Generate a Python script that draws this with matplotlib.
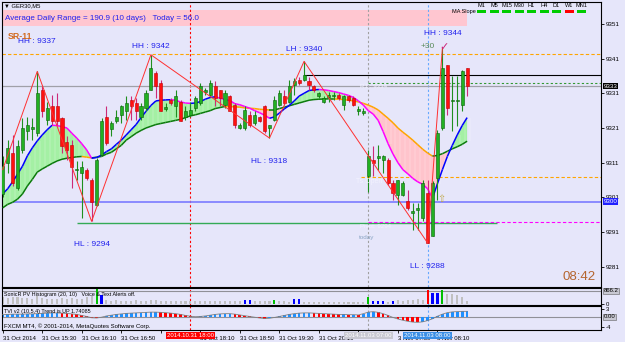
import matplotlib
matplotlib.use('Agg')
import matplotlib.pyplot as plt
import matplotlib.transforms as mtrans
from matplotlib.collections import LineCollection
from matplotlib.patches import Rectangle
import numpy as np

plt.rcParams['font.family'] = ['Liberation Sans', 'DejaVu Sans']

BG = '#e6e6fa'

# GER30 M5 candles, 31 Oct 14:50 .. 3 Nov 08:30
opens = [9302.0, 9310.9, 9313.8, 9303.7, 9314.7, 9320.0, 9320.8, 9319.5, 9332.0, 9323.4,
         9327.2, 9327.2, 9323.8, 9317.1, 9316.2, 9308.8, 9308.0, 9309.0, 9306.1, 9298.9,
         9313.3, 9324.3, 9320.6, 9322.9, 9324.8, 9325.8, 9329.1, 9328.2, 9324.3, 9326.7,
         9332.0, 9336.8, 9333.9, 9326.5, 9329.1, 9327.2, 9328.6, 9324.3, 9324.8, 9326.7,
         9328.2, 9331.4, 9330.6, 9333.0, 9332.0, 9327.7, 9330.1, 9327.7, 9321.0, 9321.0,
         9324.8, 9322.4, 9324.3, 9327.2, 9321.0, 9323.4, 9327.7, 9330.1, 9328.6, 9333.4,
         9334.9, 9334.9, 9334.4, 9333.0, 9330.1, 9328.6, 9330.0, 9330.2, 9330.6, 9327.7,
         9330.1, 9329.6, 9325.8, 9325.3, 9307.1, 9311.9, 9312.4, 9311.9, 9311.9, 9305.1,
         9301.8, 9301.8, 9299.9, 9296.5, 9297.4, 9295.1, 9302.3, 9289.8, 9306.6, 9321.0,
         9339.2, 9328.7, 9328.7, 9327.7, 9338.3]
highs = [9313.0, 9317.6, 9319.0, 9317.6, 9323.8, 9324.3, 9323.8, 9337.3, 9333.0, 9328.6,
         9330.6, 9331.0, 9324.3, 9318.6, 9317.6, 9311.4, 9311.4, 9309.4, 9306.6, 9312.3,
         9323.8, 9327.2, 9323.0, 9326.2, 9327.7, 9330.1, 9330.1, 9329.6, 9328.2, 9332.0,
         9342.1, 9337.3, 9334.9, 9328.2, 9329.6, 9332.0, 9329.1, 9327.2, 9328.6, 9330.1,
         9333.9, 9332.5, 9334.9, 9334.4, 9332.0, 9332.0, 9330.6, 9328.2, 9322.4, 9327.2,
         9325.8, 9325.8, 9324.5, 9327.7, 9322.0, 9330.1, 9332.0, 9332.0, 9334.9, 9335.4,
         9335.8, 9340.2, 9335.8, 9333.4, 9331.4, 9330.1, 9331.4, 9331.4, 9331.0, 9330.6,
         9330.6, 9330.1, 9327.2, 9326.7, 9314.7, 9315.7, 9316.2, 9313.3, 9312.3, 9306.1,
         9306.1, 9305.6, 9303.2, 9299.5, 9299.4, 9306.1, 9306.1, 9305.6, 9320.5, 9344.0,
         9339.2, 9335.9, 9335.9, 9337.8, 9338.3]
lows = [9301.0, 9308.0, 9304.2, 9303.2, 9313.8, 9317.6, 9317.6, 9318.6, 9324.3, 9321.9,
        9321.9, 9321.9, 9313.8, 9311.8, 9303.7, 9306.1, 9295.0, 9306.1, 9294.1, 9298.4,
        9312.8, 9316.2, 9318.6, 9322.4, 9322.4, 9323.4, 9323.4, 9323.4, 9323.4, 9325.8,
        9332.0, 9329.6, 9325.8, 9325.8, 9327.7, 9324.3, 9322.9, 9323.4, 9324.3, 9325.8,
        9327.7, 9330.6, 9330.1, 9327.2, 9327.2, 9326.7, 9325.8, 9321.0, 9320.6, 9320.5,
        9321.4, 9321.9, 9322.6, 9319.5, 9318.1, 9322.9, 9327.2, 9327.7, 9328.2, 9330.6,
        9333.4, 9334.4, 9332.0, 9331.4, 9329.6, 9328.2, 9328.6, 9329.1, 9329.1, 9326.2,
        9328.6, 9327.2, 9324.8, 9324.8, 9302.7, 9307.1, 9309.0, 9308.0, 9304.7, 9300.3,
        9298.9, 9301.3, 9297.5, 9291.5, 9291.7, 9294.1, 9287.9, 9289.8, 9300.3, 9320.5,
        9324.8, 9320.0, 9321.5, 9325.8, 9330.1]
closes = [9310.0, 9315.2, 9305.1, 9315.7, 9320.9, 9321.9, 9321.2, 9331.0, 9325.8, 9326.7,
          9322.9, 9322.9, 9315.7, 9314.7, 9309.9, 9309.2, 9309.9, 9306.6, 9299.8, 9311.8,
          9322.9, 9316.6, 9322.4, 9324.3, 9327.2, 9328.2, 9327.2, 9325.8, 9327.2, 9331.0,
          9338.2, 9333.0, 9325.8, 9327.0, 9328.2, 9330.1, 9322.9, 9325.8, 9326.2, 9329.6,
          9333.0, 9332.0, 9333.9, 9329.6, 9329.6, 9331.0, 9325.8, 9321.9, 9321.9, 9326.2,
          9321.9, 9324.8, 9322.9, 9320.0, 9321.9, 9329.1, 9331.0, 9328.2, 9333.0, 9334.4,
          9333.9, 9336.3, 9333.4, 9332.0, 9331.0, 9329.6, 9330.4, 9330.6, 9329.6, 9330.1,
          9329.1, 9327.7, 9326.4, 9325.9, 9312.8, 9310.9, 9312.8, 9312.8, 9305.1, 9302.3,
          9306.1, 9305.1, 9298.0, 9297.0, 9297.9, 9305.1, 9287.9, 9305.1, 9319.5, 9338.3,
          9326.7, 9329.2, 9329.2, 9337.3, 9333.2]

# SonicR moving averages (fast / slow)
fast_ma = [9302.0, 9303.5, 9305.5, 9307.7, 9310.0, 9313.0, 9315.3, 9317.3, 9319.0, 9320.5,
           9321.8, 9321.7, 9321.4, 9321.0, 9319.5, 9318.1, 9316.5, 9314.7, 9312.3, 9312.5,
           9313.2, 9314.2, 9315.0, 9316.3, 9317.5, 9319.0, 9320.5, 9322.0, 9324.0, 9325.8,
           9327.5, 9328.8, 9329.0, 9329.1, 9329.15, 9329.0, 9328.5, 9328.2, 9328.1, 9328.2,
           9328.6, 9329.3, 9329.8, 9330.0, 9329.6, 9329.2, 9328.9, 9328.0, 9327.7, 9327.2,
           9326.7, 9326.0, 9325.4, 9324.7, 9323.8, 9324.2, 9325.3, 9326.5, 9327.5, 9328.8,
           9330.2, 9331.0, 9331.8, 9332.0, 9332.1, 9332.0, 9331.8, 9331.5, 9331.2, 9330.8,
           9330.4, 9329.8, 9328.8, 9327.6, 9326.0, 9325.0, 9323.2, 9320.0, 9316.5, 9313.5,
           9311.0, 9309.0, 9307.8, 9306.5, 9305.5, 9304.8, 9303.5, 9300.8, 9305.0, 9309.0,
           9312.8, 9316.0, 9319.0, 9321.7, 9324.0]
slow_ma = [9298.0, 9299.0, 9299.6, 9300.5, 9302.0, 9304.3, 9306.2, 9308.3, 9309.2, 9310.0,
           9310.8, 9311.5, 9312.0, 9312.3, 9312.5, 9312.7, 9312.8, 9312.6, 9312.4, 9312.6,
           9312.8, 9313.5, 9314.0, 9315.0, 9316.0, 9317.5, 9318.5, 9319.5, 9320.3, 9321.0,
           9321.5, 9322.0, 9322.3, 9322.6, 9322.9, 9323.2, 9323.5, 9324.0, 9324.5, 9324.8,
           9325.2, 9325.6, 9326.0, 9326.6, 9326.9, 9327.2, 9327.15, 9327.1, 9327.0, 9326.8,
           9326.7, 9326.6, 9326.4, 9326.3, 9326.2, 9326.2, 9326.6, 9327.0, 9327.4, 9327.8,
           9328.2, 9328.6, 9329.0, 9329.2, 9329.3, 9329.35, 9329.4, 9329.4, 9329.3, 9329.2,
           9329.0, 9328.8, 9328.5, 9328.1, 9327.6, 9327.0, 9326.2, 9325.0, 9323.8, 9322.5,
           9321.0, 9319.8, 9318.7, 9317.5, 9316.2, 9314.9, 9313.8, 9312.9, 9313.1, 9313.6,
           9314.3, 9315.0, 9315.6, 9316.3, 9317.2]

# zigzag swing points
zz_bars = [0, 7, 18, 30, 54, 61, 86, 89]
zz_vals = [9309.0, 9337.3, 9294.1, 9342.1, 9318.1, 9340.2, 9287.9, 9344.0]
zz_text = ['', 'HH : 9337', 'HL : 9294', 'HH : 9342', 'HL : 9318', 'LH : 9340', 'LL : 9288', 'HH : 9344']
zz_off = [0, 30, -23, 8, -23, 12, -24, 15]

# horizontal levels
lvl_hh = 9342.35
lvl_lh = 9336.3
lvl_r1 = 9334.1
lvl_bid = 9333.1
lvl_ts = 9307.0
lvl_blue = 9299.8
lvl_hl = 9293.6
lvl_pivot = 9294.0

# SonicR PV histogram
vol = [420, 400, 450, 430, 380, 350, 330,
       480, 380, 330, 300, 320, 360, 300, 340, 280, 300,
       420, 520, 960, 575,
       220, 200, 210, 190, 200, 180, 210, 190, 200, 230,
       210, 190, 170, 180, 160, 190, 170, 150, 160, 170,
       160, 150, 170, 160, 150, 140, 160, 150,
       240, 240, 150, 140, 160, 150, 240, 140, 150, 130, 280, 280,
       120, 110, 100, 120, 110, 100, 90, 110, 100, 90, 100, 110, 100,
       460, 170, 170, 170, 130, 190,
       230, 200, 250, 220, 300, 260,
       914, 690, 731, 914,
       643, 643, 575, 420, 190]
vol_marks = {19: 'g', 20: 'b', 49: 'b', 50: 'b', 55: 'g', 59: 'b', 60: 'b', 74: 'g',
             75: 'b', 76: 'b', 77: 'b', 79: 'b', 86: 'r', 87: 'b', 88: 'b', 89: 'g'}

# TVI histogram
tvi = [0.8, 0.9, 1.0, 1.0, 1.0, 1.1, 1.1, 1.2,
       1.3, 1.4, 1.5, 1.5, 1.4, 1.3, 1.1, 0.9,
       0.5, 0.1, -0.4, -0.5, -0.2,
       0.3, 0.6, 0.9, 1.1, 1.3, 1.4, 1.5, 1.6, 1.7, 1.8,
       1.8, 1.7, 1.6, 1.4, 1.2, 0.9, 0.5, 0.2,
       0.0, 0.1, 0.3,
       0.6, 0.9, 1.1, 1.2, 1.2, 1.0, 0.7, 0.4,
       0.1, -0.2, -0.5, -0.7, -0.6, -0.3, 0.1,
       0.5, 0.9, 1.2, 1.4, 1.5, 1.5, 1.4, 1.3,
       1.2, 1.1, 1.0, 0.9, 0.9, 0.8, 0.8, 0.7,
       1.2, 1.8, 2.0, 1.7, 1.2,
       0.5, -0.3, -0.9,
       -1.4, -1.8, -2.1, -2.2, -2.0, -1.5, -0.8,
       0.2, 1.0, 1.6, 1.9, 2.0, 2.1, 2.1]

price_ticks = [9281, 9291, 9301, 9311, 9321, 9331, 9341, 9351]
time_bars = [0, 8, 16, 24, 32, 40, 48, 56, 64, 72, 80, 88]
# 17:30 and 20:50 sit fully under the red / grey date boxes
time_labels = ['31 Oct 2014', '31 Oct 15:30', '31 Oct 16:10', '31 Oct 16:50', '',
               '31 Oct 18:10', '31 Oct 18:50', '31 Oct 19:30', '31 Oct 20:10', '',
               '3 Nov 07:30', '3 Nov 08:10']
vline_bars = [38, 74, 86]
vline_cols = ['#ff0000', '#a0a0a0', '#66a8ff']
vline_text = ['2014.10.31 18:00', '2014.11.03 07:00', '2014.11.03 08:00']
vline_box = ['#ff0000', '#c8c8d2', '#3a8ee6']

tf_names = ['M1', 'M5', 'M15', 'M30', 'H1', 'H4', 'D1', 'W1', 'MN1']
tf_cols = ['#00cc00'] * 7 + ['#ff0000', '#00cc00']

n = len(opens)
x = np.arange(n)
fast = np.array(fast_ma)
slow = np.array(slow_ma)

W, H = 625, 342


def box(x0, y0, x1, y1):
    return [x0 / W, 1 - y1 / H, (x1 - x0) / W, (y1 - y0) / H]


def fp(px, py):
    return px / W, 1 - py / H


fig = plt.figure(figsize=(6.25, 3.42), dpi=100, facecolor=BG)
ax = fig.add_axes(box(2, 2, 601, 287), facecolor=BG)
ax_v = fig.add_axes(box(2, 288, 601, 305), facecolor=BG)
ax_t = fig.add_axes(box(2, 306, 601, 330), facecolor=BG)
XL = (-0.14, 121.1)
for a in (ax, ax_v, ax_t):
    a.set_xlim(*XL)
    for s in a.spines.values():
        s.set_linewidth(0.8)
        s.set_color('black')
    for b, c in zip(vline_bars, vline_cols):
        a.axvline(b, color=c, lw=0.8, ls=(0, (2, 2)), zorder=1)

ax.set_ylim(9275.2, 9357.3)

# banner
ax.add_patch(Rectangle((0, 0.916), 0.776, 0.056, transform=ax.transAxes,
                       facecolor='#ffc6d0', edgecolor='none', zorder=0.5))
fig.text(*fp(5, 18), 'Average Daily Range = 190.9 (10 days)   Today = 56.0',
         color='#2020ee', fontsize=5.8, va='center', ha='left')
fig.text(*fp(4, 6), '\u25bc GER30,M5', fontsize=4.2, va='center', ha='left')

# levels
ax.axhline(lvl_hh, color='#ffa500', lw=0.8, ls=(0, (3, 2)), zorder=1)
ax.axhline(lvl_bid, color='#a0a0a8', lw=0.9, zorder=1)
ax.axhline(lvl_blue, color='#7b7bff', lw=1.2, zorder=1)
ax.hlines(lvl_lh, 61, XL[1], color='black', lw=0.8, zorder=1)
ax.hlines(lvl_r1, 74, XL[1], color='#339933', lw=0.8, ls=(0, (2, 2)), zorder=1)
ax.hlines(lvl_ts, 72.5, XL[1], color='#ffa500', lw=0.8, ls=(0, (3, 2)), zorder=1)
ax.hlines(lvl_hl, 15, 100, color='#33aa55', lw=1.0, zorder=1)
ax.hlines(lvl_pivot, 74, XL[1], color='#ff00ff', lw=0.8, ls=(0, (3, 2)), zorder=1)

# MA fill + lines
ax.fill_between(x, fast, slow, where=fast >= slow, interpolate=True, color='#a4f0a4', lw=0, zorder=2)
ax.fill_between(x, fast, slow, where=fast < slow, interpolate=True, color='#ffc4cc', lw=0, zorder=2)
ax.vlines(x + 0.5, np.minimum(fast, slow), np.maximum(fast, slow),
          color='white', lw=0.35, alpha=0.5, zorder=2.1)


def colored_line(y, c_up, c_dn, lw):
    pts = np.column_stack([x, y])
    segs = np.stack([pts[:-1], pts[1:]], axis=1)
    cols = [c_up if b >= a else c_dn for a, b in zip(y[:-1], y[1:])]
    ax.add_collection(LineCollection(segs, colors=cols, linewidths=lw, zorder=3))


colored_line(slow, '#0b7a0b', '#ffa500', 1.1)
colored_line(fast, '#0000ff', '#ff00ff', 1.1)

# candles
up = [c >= o for o, c in zip(opens, closes)]
ax.vlines(x, lows, highs, colors=['#1f8f1f' if u else '#cc2a78' for u in up], lw=0.8, zorder=4)
lo = np.minimum(opens, closes)
hgt = np.maximum(np.abs(np.subtract(closes, opens)), 0.35)
ax.bar(x, hgt, bottom=lo, width=0.62,
       color=['#22b022' if u else '#ff1010' for u in up],
       edgecolor=['#0a600a' if u else '#c00000' for u in up], lw=0.4, zorder=5)

# zigzag
ax.plot(zz_bars, zz_vals, color='#ff3030', lw=0.7, zorder=6)
for b, v, t, o in zip(zz_bars, zz_vals, zz_text, zz_off):
    if t:
        ax.annotate(t, (b, v), xytext=(0, o * 0.72), textcoords='offset points',
                    ha='center', va='center', color='#2222ee', fontsize=6, zorder=7)
ax.text(1.1, 9347.3, 'SR-11', color='#d2691e', fontsize=6.3, fontweight='bold',
        ha='left', va='center', zorder=7)
ax.annotate('+30', (86.0, 9344.5), ha='center', va='center', color='#5a8a5a', fontsize=6, zorder=7)
ax.annotate('\u2713', (89.3, 9344.2), ha='center', va='center', color='#cc2277',
            fontsize=8, family='DejaVu Sans', zorder=7)
ax.annotate('\u21e7', (88.7, 9300.6), ha='center', va='center', color='#c0a848',
            fontsize=7, family='DejaVu Sans', zorder=7)
ax.text(72.3, lvl_r1 - 0.4, 'R1 : 9334', color='#f2f2ff', fontsize=4.5, ha='left', va='top', zorder=7)
ax.text(71.5, lvl_ts - 0.3, 'Ts Open', color='#f2f2ff', fontsize=5, ha='left', va='top', zorder=7)
ax.text(72.3, lvl_pivot - 0.6, 'Pivot: 9294', color='#f2f2ff', fontsize=4.5, ha='left', va='top', zorder=7)
ax.text(72.0, 9289.4, 'today', color='#8aa4c4', fontsize=4.5, ha='left', va='center', zorder=7)

# right price axis
ax.tick_params(axis='x', bottom=False, labelbottom=False)
ax.yaxis.tick_right()
ax.set_yticks(price_ticks)
ax.set_yticklabels([str(p) for p in price_ticks])
ax.tick_params(axis='y', labelsize=4.5, length=2, width=0.6, pad=1.5)
ytr = ax.get_yaxis_transform()
ax.text(1.004, lvl_bid, '9333', transform=ytr, color='white', fontsize=4.5, va='center', ha='left',
        bbox=dict(facecolor='black', edgecolor='none', pad=0.6), clip_on=False)
ax.text(1.004, lvl_blue, '9300', transform=ytr, color='white', fontsize=4.5, va='center', ha='left',
        bbox=dict(facecolor='#2020ff', edgecolor='none', pad=0.6), clip_on=False)
fig.text(*fp(596, 277), '08:42', color='#b5652f', fontsize=9.5, ha='right', va='center')

# MA slope widget
fig.text(*fp(452, 12), 'MA Slope', fontsize=4, ha='left', va='center')
for k, (nm, c) in enumerate(zip(tf_names, tf_cols)):
    cx = 481.5 + 12.5 * k
    fig.text(*fp(cx, 5.5), nm, fontsize=4, ha='center', va='center')
    fig.add_artist(Rectangle(fp(cx - 4.5, 12.5), 9 / W, 2 / H, transform=fig.transFigure,
                             facecolor=c, edgecolor='none'))

# SonicR PV histogram
vc = {'k': '#c0c0c0', 'g': '#00c000', 'b': '#0000ff', 'r': '#ff0000'}
ax_v.bar(x, vol, width=0.42, color=[vc[vol_marks.get(i, 'k')] for i in range(n)], zorder=2)
ax_v.axhline(866, color='#909098', lw=0.8, zorder=1)
ax_v.set_ylim(-101, 1049)
ax_v.tick_params(axis='x', bottom=False, labelbottom=False)
ax_v.yaxis.tick_right()
ax_v.set_yticks([0])
ax_v.set_yticklabels(['0'])
ax_v.tick_params(axis='y', labelsize=4.3, length=2, width=0.6, pad=1.5)
ax_v.text(1.004, 866, '866.2', transform=ax_v.get_yaxis_transform(), fontsize=4.3, va='center',
          ha='left', bbox=dict(facecolor='#c8c8d2', edgecolor='#606060', lw=0.4, pad=0.4), clip_on=False)
ax_v.text(0.003, 0.63, 'SonicR PV Histogram (20, 10)   Voice & Text Alerts off.', transform=ax_v.transAxes,
          fontsize=3.9, ha='left', va='center', zorder=3)

# TVI
ax_t.bar(x, tvi, width=0.55,
         color=['#1e90ff' if (i == 0 or tvi[i] >= tvi[i - 1]) else '#ff0000' for i in range(n)], zorder=2)
ax_t.plot(x, tvi, color='#808080', lw=0.6, zorder=3)
ax_t.axhline(0, color='#909098', lw=0.8, zorder=1)
ax_t.set_ylim(-5.2, 4.2)
ax_t.yaxis.tick_right()
ax_t.set_yticks([3, -4])
ax_t.set_yticklabels(['3', '-4'])
ax_t.tick_params(axis='y', labelsize=4.3, length=2, width=0.6, pad=1.5)
ax_t.text(1.004, 0, '0.00', transform=ax_t.get_yaxis_transform(), fontsize=4.3, va='center',
          ha='left', bbox=dict(facecolor='#c8c8d2', edgecolor='#606060', lw=0.4, pad=0.4), clip_on=False)
ax_t.text(0.003, 0.78, 'TVI v2 (10,5,4) Trend is UP 1.74085', transform=ax_t.transAxes,
          fontsize=3.9, ha='left', va='center', zorder=4)
ax_t.text(0.003, 0.17, 'FXCM MT4, \u00a9 2001-2014, MetaQuotes Software Corp.', transform=ax_t.transAxes,
          fontsize=4.3, ha='left', va='center', zorder=4)

# time axis
ax_t.set_xticks(time_bars)
ax_t.set_xticklabels(time_labels, ha='left', fontsize=4.3)
ax_t.tick_params(axis='x', length=2.5, width=0.6, pad=1.5, direction='out')
xtr = mtrans.blended_transform_factory(ax_t.transData, ax_t.transAxes)
for b, t, c in zip(vline_bars, vline_text, vline_box):
    ax_t.text(b, -0.13, t, transform=xtr, color='white', fontsize=4.3, ha='center', va='top',
              bbox=dict(facecolor=c, edgecolor='none', pad=0.7), clip_on=False, zorder=10)

fig.savefig('out.png', dpi=100, facecolor=BG)
